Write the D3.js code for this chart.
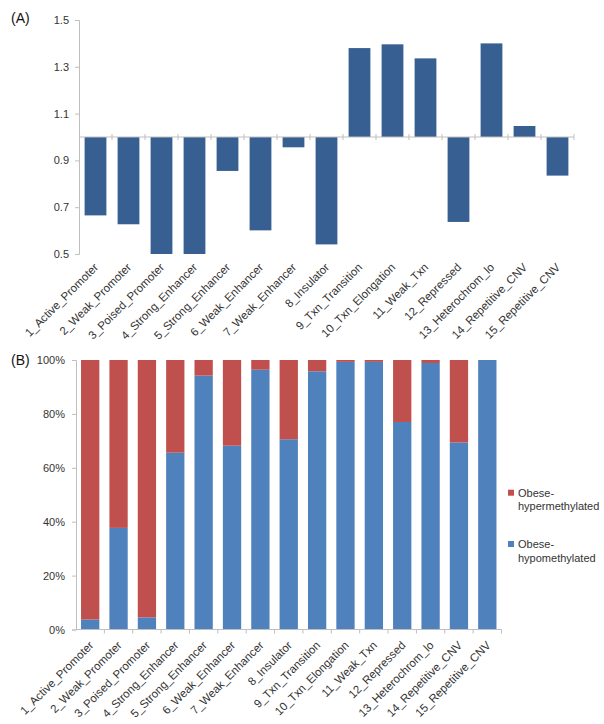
<!DOCTYPE html>
<html><head><meta charset="utf-8">
<script src="https://cdn.jsdelivr.net/npm/d3@7"></script>
<style>body{margin:0;background:#fff}svg{display:block}text{font-family:Arial,"Liberation Sans",sans-serif}</style>
</head><body>
<script>
const categories = ["1_Active_Promoter","2_Weak_Promoter","3_Poised_Promoter","4_Strong_Enhancer","5_Strong_Enhancer","6_Weak_Enhancer","7_Weak_Enhancer","8_Insulator","9_Txn_Transition","10_Txn_Elongation","11_Weak_Txn","12_Repressed","13_Heterochrom_lo","14_Repetitive_CNV","15_Repetitive_CNV"];
const ratioValues = [0.665,0.627,0.5,0.5,0.855,0.601,0.956,0.541,1.380,1.396,1.336,0.637,1.400,1.047,0.835];
const ratioTicks = [0.5,0.7,0.9,1.1,1.3,1.5];
const hypoPct = [3.7,37.7,4.5,65.6,94.2,68.2,96.4,70.6,95.8,99.3,99.3,77.0,98.9,69.4,100];
const hyperPct = hypoPct.map(v => 100 - v);
const pctTicks = [0,20,40,60,80,100];
const seriesNames = ["Obese-hypermethylated","Obese-hypomethylated"];

const W = 604, H = 724;
const svg = d3.select("body").append("svg").attr("width", W).attr("height", H);
const axisColor = "#BFBFBF", textColor = "#333";

// ---------- Panel A ----------
const xA = d3.scaleBand().domain(categories).range([79, 574]).paddingInner(0.34).paddingOuter(0.17);
const yA = d3.scaleLinear().domain([0.5, 1.5]).range([254, 20]);
const gA = svg.append("g");
gA.append("text").attr("x", 11).attr("y", 23).attr("font-size", 14).attr("fill", "#111").text("(A)");

gA.selectAll("rect.bar").data(ratioValues).join("rect")
  .attr("x", (d,i) => xA(categories[i]))
  .attr("width", xA.bandwidth())
  .attr("y", d => yA(Math.max(d, 1)))
  .attr("height", d => Math.abs(yA(d) - yA(1)))
  .attr("fill", "#375F92");

// y axis
const yAxA = gA.append("g").attr("transform", "translate(79,0)")
  .call(d3.axisLeft(yA).tickValues(ratioTicks).tickFormat(d3.format(".1f")).tickSize(4).tickPadding(6));
yAxA.select(".domain").attr("stroke", axisColor);
yAxA.selectAll(".tick line").attr("stroke", axisColor);
yAxA.selectAll(".tick text").attr("font-size", 11).attr("fill", textColor).attr("font-family", "Arial");

// x axis at 1.0 with crossing ticks
const stepA = xA.step();
const boundsA = d3.range(categories.length + 1).map(i => xA.range()[0] + i * stepA);
gA.append("line").attr("x1", xA.range()[0]).attr("x2", xA.range()[1]).attr("y1", yA(1)).attr("y2", yA(1)).attr("stroke", axisColor);
gA.selectAll("line.tk").data(boundsA.slice(1)).join("line")
  .attr("x1", d => d).attr("x2", d => d).attr("y1", yA(1) - 3).attr("y2", yA(1) + 3).attr("stroke", axisColor);

gA.selectAll("text.cat").data(categories).join("text")
  .attr("font-size", 11.5).attr("fill", textColor).attr("text-anchor", "end")
  .attr("transform", d => `translate(${xA(d) + xA.bandwidth()/2 + 3.5},${268}) rotate(-45)`)
  .text(d => d);

// ---------- Panel B ----------
const xB = d3.scaleBand().domain(categories).range([76, 501.5]).paddingInner(0.355).paddingOuter(0.1775);
const yB = d3.scaleLinear().domain([0, 100]).range([629.5, 360]);
const gB = svg.append("g");
gB.append("text").attr("x", 11).attr("y", 365).attr("font-size", 14).attr("fill", "#111").text("(B)");

const stackData = categories.map((c,i) => ({cat: c, hypo: hypoPct[i], hyper: hyperPct[i]}));
const stack = d3.stack().keys(["hypo","hyper"])(stackData);
const colors = {hypo: "#4F81BD", hyper: "#C0504D"};
gB.selectAll("g.series").data(stack).join("g").attr("fill", s => colors[s.key])
  .selectAll("rect").data(s => s).join("rect")
  .attr("x", d => xB(d.data.cat))
  .attr("width", xB.bandwidth())
  .attr("y", d => yB(d[1]))
  .attr("height", d => yB(d[0]) - yB(d[1]));

const yAxB = gB.append("g").attr("transform", "translate(76,0)")
  .call(d3.axisLeft(yB).tickValues(pctTicks).tickFormat(d => d + "%").tickSize(4).tickPadding(7));
yAxB.select(".domain").attr("stroke", axisColor);
yAxB.selectAll(".tick line").attr("stroke", axisColor);
yAxB.selectAll(".tick text").attr("font-size", 11).attr("fill", textColor).attr("font-family", "Arial");

const stepB = xB.step();
const boundsB = d3.range(categories.length + 1).map(i => xB.range()[0] + i * stepB);
gB.append("line").attr("x1", xB.range()[0]).attr("x2", xB.range()[1]).attr("y1", yB(0)).attr("y2", yB(0)).attr("stroke", axisColor);
gB.selectAll("line.tk").data(boundsB.slice(1)).join("line")
  .attr("x1", d => d).attr("x2", d => d).attr("y1", yB(0)).attr("y2", yB(0) + 4).attr("stroke", axisColor);

gB.selectAll("text.cat").data(categories).join("text")
  .attr("font-size", 11.5).attr("fill", textColor).attr("text-anchor", "end")
  .attr("transform", d => `translate(${xB(d) + xB.bandwidth()/2 + 4},${646}) rotate(-45)`)
  .text(d => d);

// legend
const legend = [
  {name: seriesNames[0], color: colors.hyper, lines: ["Obese-","hypermethylated"], y: 492.7},
  {name: seriesNames[1], color: colors.hypo, lines: ["Obese-","hypomethylated"], y: 544}
];
const lg = gB.selectAll("g.lg").data(legend).join("g");
lg.append("rect").attr("x", 508).attr("y", d => d.y - 3).attr("width", 6).attr("height", 6).attr("fill", d => d.color);
lg.append("text").attr("font-size", 11).attr("fill", textColor)
  .selectAll("tspan").data(d => d.lines.map((l,k) => ({l, k, y: d.y}))).join("tspan")
  .attr("x", 518).attr("y", t => t.y + 4 + t.k * 13.5).text(t => t.l);
</script>
</body></html>
